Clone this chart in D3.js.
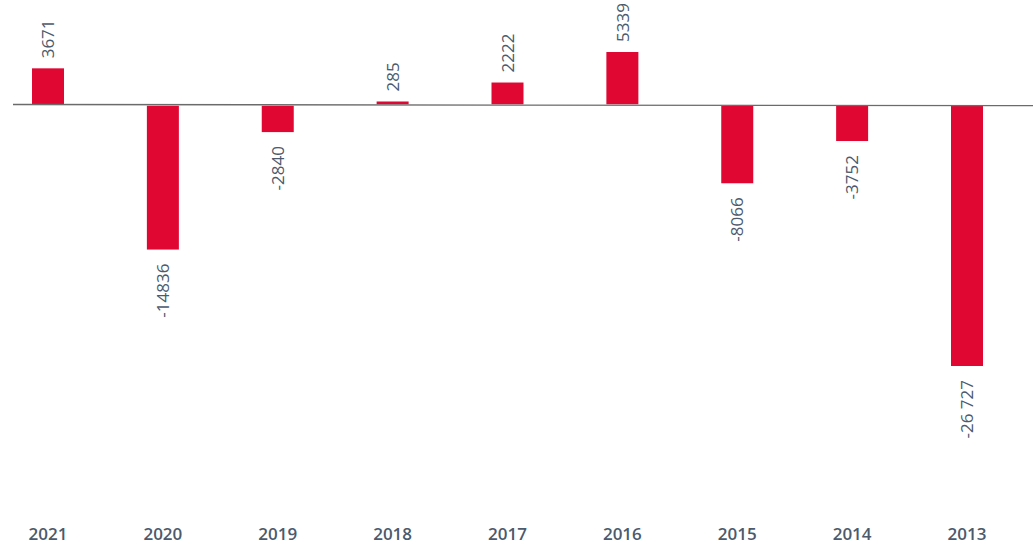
<!DOCTYPE html>
<html>
<head>
<meta charset="utf-8">
<script src="https://cdn.jsdelivr.net/npm/d3@7"></script>
<style>
  body { margin: 0; background: #fff; }
  text { font-family: "Open Sans", sans-serif; }
</style>
</head>
<body>
<div id="chart"></div>
<script>
// data
const years = ["2021", "2020", "2019", "2018", "2017", "2016", "2015", "2014", "2013"];
const values = [3671, -14836, -2840, 285, 2222, 5339, -8066, -3752, -26727];
const labels = ["3671", "-14836", "-2840", "285", "2222", "5339", "-8066", "-3752", "-26 727"];

/** CONSTANTS */
const width = 1033;
const height = 550;
const barWidth = 32;
const barColor = "#e00833";
const textColor = "#4b5a6c";

const data = years.map((y, i) => ({ year: y, value: values[i], label: labels[i] }));

/** SCALES */
const xScale = d3.scalePoint()
  .domain(years)
  .range([48, 967]);

const yScale = d3.scaleLinear()
  .domain([d3.min(values), d3.max(values)])
  .range([366, 52]);

const y0 = yScale(0);

/** DRAWING ELEMENTS */
const svg = d3.select("#chart")
  .append("svg")
  .attr("width", width)
  .attr("height", height);

// bars
svg.selectAll("rect.bar")
  .data(data)
  .join("rect")
  .attr("class", "bar")
  .attr("x", d => xScale(d.year) - barWidth / 2)
  .attr("width", barWidth)
  .attr("y", d => d.value >= 0 ? yScale(d.value) : y0 + 1.5)
  .attr("height", d => d.value >= 0 ? y0 - yScale(d.value) : yScale(d.value) - y0 - 1.5)
  .attr("fill", barColor);

// zero line
svg.append("line")
  .attr("x1", 13)
  .attr("x2", width)
  .attr("y1", y0 + 0.2)
  .attr("y2", y0 + 1.4)
  .attr("stroke", "#6b6b6b")
  .attr("stroke-width", 1.3);

// value labels, rotated
svg.selectAll("text.value")
  .data(data)
  .join("text")
  .attr("class", "value")
  .attr("transform", d => {
    const ty = d.value >= 0 ? yScale(d.value) - 10 : yScale(d.value) + 14;
    return `translate(${xScale(d.year)},${ty}) rotate(-90)`;
  })
  .attr("dy", "0.36em")
  .attr("text-anchor", d => d.value >= 0 ? "start" : "end")
  .attr("font-size", 17)
  .attr("fill", textColor)
  .text(d => d.label);

// year labels
svg.selectAll("text.year")
  .data(data)
  .join("text")
  .attr("class", "year")
  .attr("x", d => xScale(d.year))
  .attr("y", 540)
  .attr("text-anchor", "middle")
  .attr("font-size", 17)
  .attr("font-weight", 600)
  .attr("fill", textColor)
  .text(d => d.year);
</script>
</body>
</html>
